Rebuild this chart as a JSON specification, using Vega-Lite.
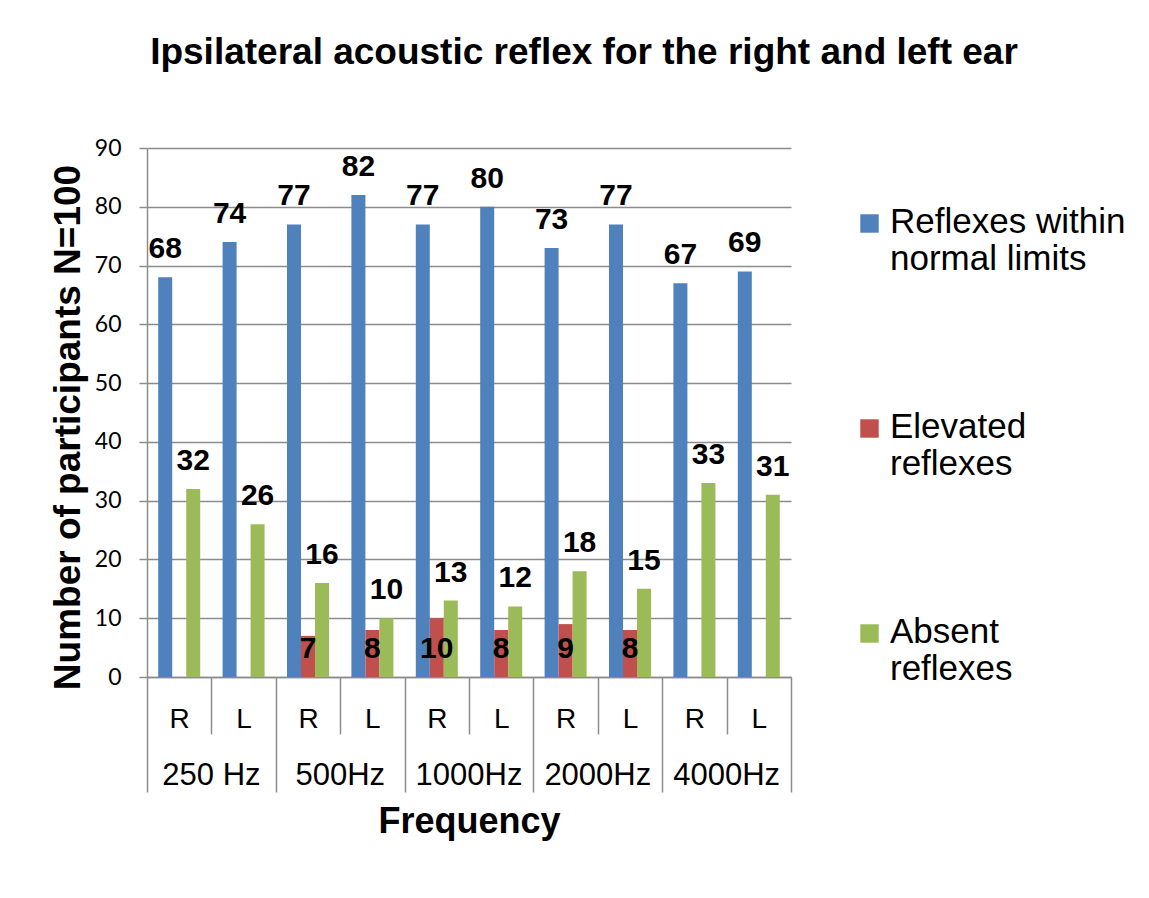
{
  "$schema": "https://vega.github.io/schema/vega-lite/v6.json",
  "width": 644,
  "height": 529,
  "autosize": {"type": "none"},
  "padding": {"left": 147, "top": 148, "right": 358, "bottom": 221},
  "background": "white",
  "config": {"view": {"stroke": null}},
  "title": {
    "text": "Ipsilateral acoustic reflex for the right and left ear",
    "font": "Liberation Sans",
    "fontSize": 37,
    "fontWeight": "bold",
    "color": "black",
    "frame": "group",
    "anchor": "middle",
    "dx": 115,
    "baseline": "alphabetic",
    "offset": 36
  },
  "data": {
    "values": [
      {"cat": "250 Hz|R", "series": "Reflexes within normal limits", "value": 68},
      {"cat": "250 Hz|R", "series": "Elevated reflexes", "value": 0},
      {"cat": "250 Hz|R", "series": "Absent reflexes", "value": 32},
      {"cat": "250 Hz|L", "series": "Reflexes within normal limits", "value": 74},
      {"cat": "250 Hz|L", "series": "Elevated reflexes", "value": 0},
      {"cat": "250 Hz|L", "series": "Absent reflexes", "value": 26},
      {"cat": "500Hz|R", "series": "Reflexes within normal limits", "value": 77},
      {"cat": "500Hz|R", "series": "Elevated reflexes", "value": 7},
      {"cat": "500Hz|R", "series": "Absent reflexes", "value": 16},
      {"cat": "500Hz|L", "series": "Reflexes within normal limits", "value": 82},
      {"cat": "500Hz|L", "series": "Elevated reflexes", "value": 8},
      {"cat": "500Hz|L", "series": "Absent reflexes", "value": 10},
      {"cat": "1000Hz|R", "series": "Reflexes within normal limits", "value": 77},
      {"cat": "1000Hz|R", "series": "Elevated reflexes", "value": 10},
      {"cat": "1000Hz|R", "series": "Absent reflexes", "value": 13},
      {"cat": "1000Hz|L", "series": "Reflexes within normal limits", "value": 80},
      {"cat": "1000Hz|L", "series": "Elevated reflexes", "value": 8},
      {"cat": "1000Hz|L", "series": "Absent reflexes", "value": 12},
      {"cat": "2000Hz|R", "series": "Reflexes within normal limits", "value": 73},
      {"cat": "2000Hz|R", "series": "Elevated reflexes", "value": 9},
      {"cat": "2000Hz|R", "series": "Absent reflexes", "value": 18},
      {"cat": "2000Hz|L", "series": "Reflexes within normal limits", "value": 77},
      {"cat": "2000Hz|L", "series": "Elevated reflexes", "value": 8},
      {"cat": "2000Hz|L", "series": "Absent reflexes", "value": 15},
      {"cat": "4000Hz|R", "series": "Reflexes within normal limits", "value": 67},
      {"cat": "4000Hz|R", "series": "Elevated reflexes", "value": 0},
      {"cat": "4000Hz|R", "series": "Absent reflexes", "value": 33},
      {"cat": "4000Hz|L", "series": "Reflexes within normal limits", "value": 69},
      {"cat": "4000Hz|L", "series": "Elevated reflexes", "value": 0},
      {"cat": "4000Hz|L", "series": "Absent reflexes", "value": 31}
    ]
  },
  "encoding": {
    "xOffset": {
      "field": "series",
      "type": "nominal",
      "sort": ["Reflexes within normal limits", "Elevated reflexes", "Absent reflexes"],
      "scale": {"paddingInner": 0, "paddingOuter": 0.8}
    }
  },
  "layer": [
    {
      "mark": {"type": "bar"},
      "encoding": {
        "x": {
          "field": "cat",
          "type": "nominal",
          "sort": null,
          "scale": {"paddingInner": 0, "paddingOuter": 0},
          "axis": {
            "orient": "bottom",
            "title": null,
            "labelExpr": "split(datum.value, '|')[1]",
            "tickBand": "extent",
            "tickSize": {"condition": {"test": "datum.index < 0 || indexof(datum.value + '', '|L') >= 0", "value": 115}, "value": 57},
            "labelPadding": {"condition": {"test": "indexof(datum.value + '', '|L') >= 0", "value": -87}, "value": -29},
            "tickColor": "#8c8c8c",
            "tickWidth": 1.5,
            "domainColor": "#8c8c8c",
            "domainWidth": 1.5,
            "labelFont": "Liberation Sans",
            "labelFontSize": 28,
            "labelColor": "black",
            "labelAngle": 0,
            "grid": false
          }
        },
        "y": {
          "field": "value",
          "type": "quantitative",
          "scale": {"domain": [0, 90]},
          "axis": {
            "title": "Number of participants N=100",
            "titleFont": "Liberation Sans",
            "titleFontSize": 37,
            "titleFontWeight": "bold",
            "titleColor": "black",
            "titleAngle": -90,
            "titleX": -68,
            "titleY": 279,
            "titleAlign": "center",
            "titleBaseline": "alphabetic",
            "values": [0, 10, 20, 30, 40, 50, 60, 70, 80, 90],
            "tickSize": 8,
            "tickColor": "#8c8c8c",
            "tickWidth": 1.5,
            "domainColor": "#8c8c8c",
            "domainWidth": 1.5,
            "grid": true,
            "gridColor": "#8c8c8c",
            "gridWidth": 1.5,
            "labelFont": "Lato",
            "labelFontSize": 23,
            "labelColor": "black",
            "labelPadding": 18
          }
        },
        "color": {
          "field": "series",
          "type": "nominal",
          "scale": {
            "domain": ["Reflexes within normal limits", "Elevated reflexes", "Absent reflexes"],
            "range": ["#4F81BD", "#C0504D", "#9BBB59"]
          },
          "legend": {
            "title": null,
            "orient": "none",
            "legendX": 705,
            "legendY": 58,
            "symbolType": "square",
            "symbolSize": 340,
            "symbolStrokeWidth": 0,
            "labelFont": "Liberation Sans",
            "labelFontSize": 35,
            "labelColor": "black",
            "labelLimit": 400,
            "labelOffset": 3,
            "labelBaseline": "top",
            "rowPadding": 132,
            "labelExpr": "datum.label == 'Reflexes within normal limits' ? ['Reflexes within', 'normal limits'] : split(datum.label, ' ')",
            "encoding": {"labels": {"dy": {"value": -19}}}
          }
        }
      }
    },
    {
      "transform": [{"filter": "datum.series != 'Elevated reflexes'"}],
      "mark": {"type": "text", "font": "Liberation Sans", "fontSize": 30, "fontWeight": "bold", "color": "black", "baseline": "alphabetic", "dy": -19},
      "encoding": {
        "x": {
          "field": "cat",
          "type": "nominal",
          "sort": null,
          "axis": {
            "orient": "bottom",
            "title": "Frequency",
            "titleFont": "Liberation Sans",
            "titleFontSize": 36,
            "titleFontWeight": "bold",
            "titleColor": "black",
            "titlePadding": 14,
            "labelExpr": "split(datum.value, '|')[1] == 'R' ? split(datum.value, '|')[0] : ''",
            "labelOffset": 32.2,
            "ticks": false,
            "domain": false,
            "labelFont": "Liberation Sans",
            "labelFontSize": 31,
            "labelColor": "black",
            "labelPadding": 83,
            "labelAngle": 0,
            "grid": false
          }
        },
        "y": {"field": "value", "type": "quantitative"},
        "text": {"field": "value", "type": "quantitative"}
      }
    },
    {
      "transform": [{"filter": "datum.series == 'Elevated reflexes' && datum.value > 0"}],
      "mark": {"type": "text", "font": "Liberation Sans", "fontSize": 30, "fontWeight": "bold", "color": "black", "baseline": "alphabetic", "dy": -19},
      "encoding": {
        "x": {"field": "cat", "type": "nominal", "sort": null, "axis": null},
        "y": {"datum": 0},
        "text": {"field": "value", "type": "quantitative"}
      }
    }
  ],
  "resolve": {"axis": {"x": "independent"}}
}
